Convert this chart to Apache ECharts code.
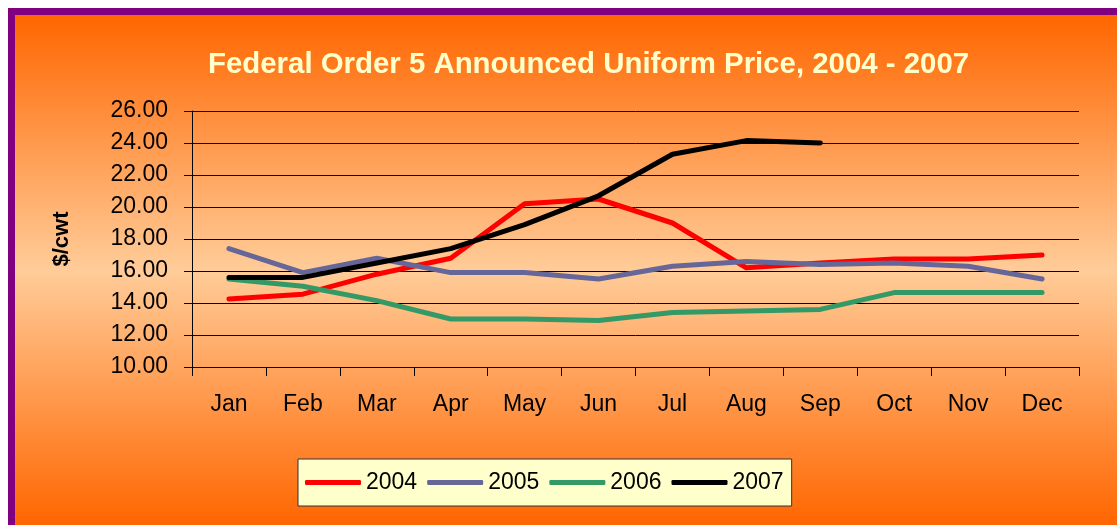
<!DOCTYPE html>
<html>
<head>
<meta charset="utf-8">
<script src="https://cdn.jsdelivr.net/npm/echarts@6/dist/echarts.min.js"></script>
<style>
html,body{margin:0;padding:0;background:#ffffff;}
#chart{width:1117px;height:525px;}
</style>
</head>
<body>
<div id="chart"></div>
<script>
const months = ['Jan','Feb','Mar','Apr','May','Jun','Jul','Aug','Sep','Oct','Nov','Dec'];
const years = ['2004','2005','2006','2007'];
const v2004 = [14.25, 14.55, 15.8, 16.8, 20.2, 20.5, 19.0, 16.2, 16.5, 16.75, 16.75, 17.0];
const v2005 = [17.4, 15.9, 16.8, 15.9, 15.9, 15.5, 16.3, 16.6, 16.4, 16.5, 16.3, 15.5];
const v2006 = [15.5, 15.05, 14.15, 13.0, 13.0, 12.9, 13.4, 13.5, 13.6, 14.65, 14.65, 14.65];
const v2007 = [15.6, 15.6, 16.5, 17.4, 18.9, 20.7, 23.3, 24.15, 24.0];
const yTicks = { min: 10, max: 26, interval: 2 };
const colors = ['#FF0000', '#666699', '#339966', '#000000'];
const seriesData = [v2004, v2005, v2006, v2007];

const chart = echarts.init(document.getElementById('chart'), null, { renderer: 'canvas' });
const font = 'Liberation Sans, Arial, sans-serif';

chart.setOption({
  animation: false,
  graphic: [{
    type: 'rect', z: -10, silent: true,
    shape: { x: 11.5, y: 11.5, width: 1200, height: 600 },
    style: {
      fill: { type: 'linear', x: 0, y: 15, x2: 0, y2: 525, global: true,
        colorStops: [{ offset: 0, color: '#FF6600' }, { offset: 0.5, color: '#FFCC99' }, { offset: 1, color: '#FF6600' }] },
      stroke: '#800080', lineWidth: 7
    }
  }],
  title: {
    text: 'Federal Order 5 Announced Uniform Price, 2004 - 2007',
    left: 208, top: 50, padding: 0,
    textStyle: { fontFamily: font, fontSize: 29.4, fontWeight: 'bold', color: '#FFFFCC' }
  },
  legend: {
    data: years, left: 298, top: 459, orient: 'horizontal',
    backgroundColor: '#FFFFCC', borderColor: '#333333', borderWidth: 1,
    padding: [12, 8, 12, 7], itemGap: 10, itemWidth: 56, itemHeight: 5,
    icon: 'roundRect',
    textStyle: { fontFamily: font, fontSize: 23, color: '#000' }
  },
  grid: { left: 192, right: 38, top: 111, bottom: 158, containLabel: false },
  xAxis: {
    type: 'category', data: months, boundaryGap: true,
    axisLine: { lineStyle: { color: '#000', width: 1 } },
    axisTick: { show: true, length: 9, lineStyle: { color: '#000' } },
    axisLabel: { fontFamily: font, fontSize: 23, color: '#000', margin: 26 },
    splitLine: { show: false }
  },
  yAxis: {
    type: 'value', min: yTicks.min, max: yTicks.max, interval: yTicks.interval,
    name: '$/cwt', nameLocation: 'middle', nameRotate: 90, nameGap: 119,
    nameTextStyle: { fontFamily: font, fontSize: 22, fontWeight: 'bold', color: '#000' },
    axisLine: { show: true, lineStyle: { color: '#000', width: 1 } },
    axisTick: { show: true, length: 8, lineStyle: { color: '#000' } },
    axisLabel: { fontFamily: font, fontSize: 23, color: '#000', margin: 24,
      formatter: v => v.toFixed(2) },
    splitLine: { show: true, lineStyle: { color: '#000', width: 1 } }
  },
  series: years.map((y, i) => ({
    name: y, type: 'line', data: seriesData[i],
    symbol: 'none', showSymbol: false, smooth: false,
    color: colors[i],
    lineStyle: { color: colors[i], width: 5, cap: 'round', join: 'round' },
    itemStyle: { color: colors[i] }
  }))
});
</script>
</body>
</html>
